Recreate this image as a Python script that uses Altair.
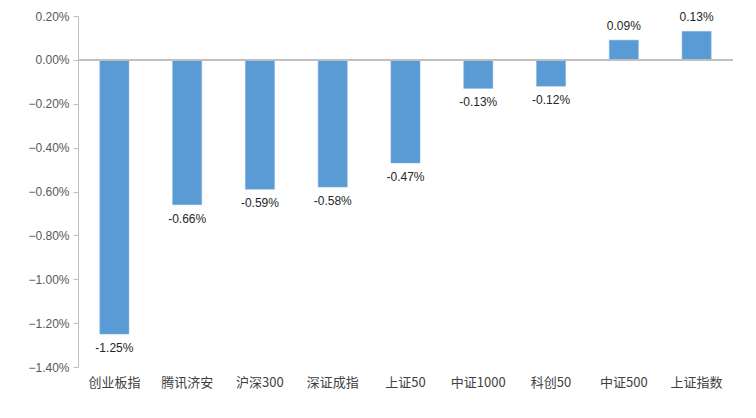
import altair as alt
import pandas as pd

categories = ["创业板指", "腾讯济安", "沪深300", "深证成指", "上证50", "中证1000", "科创50", "中证500", "上证指数"]
values = [-1.25, -0.66, -0.59, -0.58, -0.47, -0.13, -0.12, 0.09, 0.13]
y_ticks = [0.2, 0.0, -0.2, -0.4, -0.6, -0.8, -1.0, -1.2, -1.4]

df = pd.DataFrame({"cat": categories, "val": [v / 100 for v in values]})
df["label"] = [f"{v:.2f}%" for v in values]
df["sign"] = ["neg" if v < 0 else "pos" for v in values]

x_enc = alt.X("cat:N", sort=categories, title=None,
              scale=alt.Scale(paddingInner=0.6, paddingOuter=0.3),
              axis=alt.Axis(labelAngle=0, domain=False, ticks=False, labelPadding=9,
                            labelFont="Noto Sans CJK SC", labelFontSize=13, labelColor="#404040"))
y_scale = alt.Scale(domain=[-0.014, 0.002], nice=False)

base = alt.Chart(df)

bars = base.mark_bar(color="#5B9BD5", stroke="#7FB0DE", strokeWidth=0.5).encode(
    x=x_enc,
    y=alt.Y("val:Q", scale=y_scale, title=None,
            axis=alt.Axis(values=[t / 100 for t in y_ticks], format=".2%", grid=False,
                          domainColor="#BFBFBF", tickColor="#BFBFBF", tickSize=5,
                          labelFont="Liberation Sans", labelFontSize=12, labelColor="#595959",
                          labelPadding=4)),
)

zero = base.mark_rule(color="#BFBFBF", strokeWidth=1).encode(y=alt.datum(0))

neg_text = base.transform_filter(alt.datum.sign == "neg").mark_text(
    baseline="top", dy=9, font="Liberation Sans", fontSize=12, color="#262626"
).encode(x=alt.X("cat:N", sort=categories), y=alt.Y("val:Q", scale=y_scale), text="label:N")

pos_text = base.transform_filter(alt.datum.sign == "pos").mark_text(
    baseline="bottom", dy=-7, font="Liberation Sans", fontSize=12, color="#262626"
).encode(x=alt.X("cat:N", sort=categories), y=alt.Y("val:Q", scale=y_scale), text="label:N")

chart = alt.layer(bars, zero, neg_text, pos_text).properties(
    width=655, height=351,
    padding={"left": 70, "top": 8, "right": 15, "bottom": 43},
    autosize="none",
    background="white",
).configure_view(stroke=None)

chart.save("out.html", embed_options={"renderer": "svg", "actions": False})
